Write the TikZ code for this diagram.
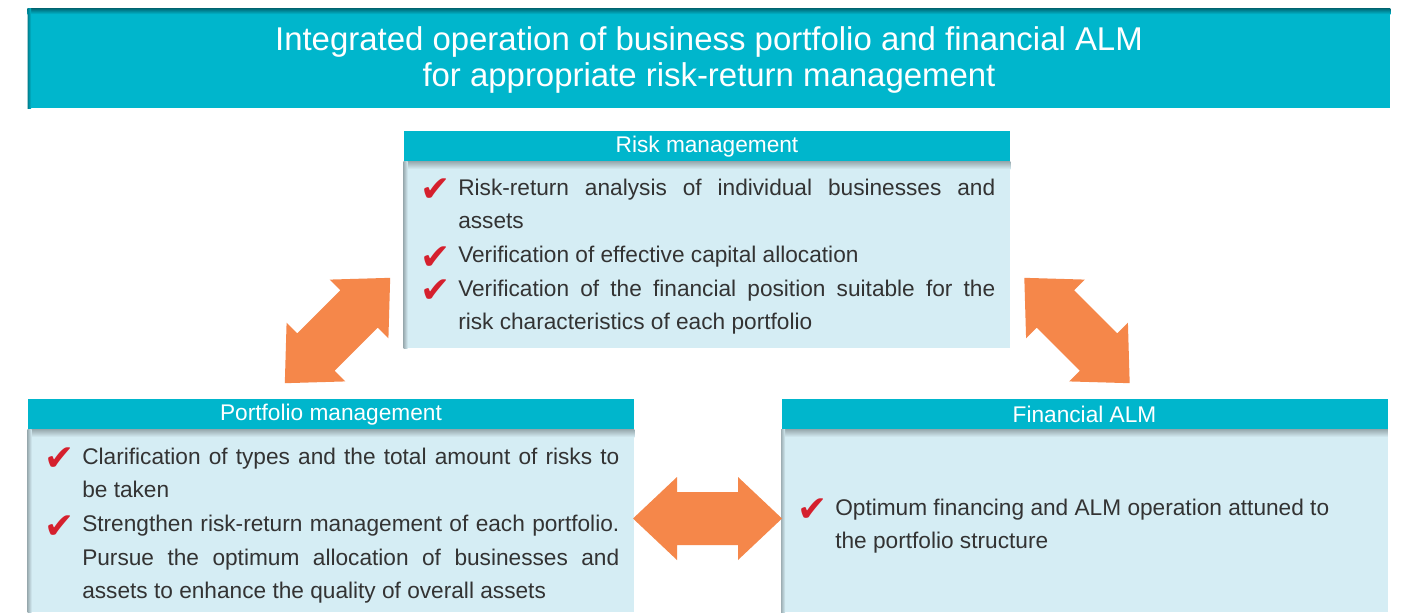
\documentclass[tikz,border=0pt]{standalone}
\usepackage{fontspec}
\setmainfont{Liberation Sans}
\newfontfamily\symfont{DejaVu Sans}
\definecolor{hdr}{HTML}{00B6CC}
\definecolor{bodyc}{HTML}{D5EDF4}
\definecolor{arr}{HTML}{F5874A}
\definecolor{chkc}{HTML}{D5202D}
\definecolor{txt}{HTML}{333333}
\newcommand\nohyph{\hyphenpenalty=10000\relax\exhyphenpenalty=10000\relax}
\newcommand\chkmark{\smash{\raisebox{-5pt}{\symfont\fontsize{27}{27}\selectfont\textcolor{chkc}{✔}}}}
\newcommand\itm[1]{\par\noindent\hangindent=28.5pt\hangafter=1\makebox[28.5pt][l]{\chkmark}#1}
\tikzset{
  hdrbox/.style={fill=hdr, text=white, inner sep=0pt, minimum width=454.5pt, minimum height=23.25pt, font=\fontsize{17}{20}\selectfont},
  bodybox/.style={fill=bodyc, inner sep=0pt, minimum width=454.5pt, anchor=north},
  bodytext/.style={anchor=north west, inner sep=0pt, text width=431.25pt, align=justify, text=txt,
    font={\fontsize{17}{25.3}\selectfont\nohyph}},
  dblarrow/.pic={\fill[arr] (-74.5,0) -- (-30.5,-41.5) -- (-30.5,-26.5) -- (30.5,-26.5) -- (30.5,-41.5) -- (74.5,0)
      -- (30.5,41.5) -- (30.5,26.5) -- (-30.5,26.5) -- (-30.5,41.5) -- cycle;},
  topshadow/.style={top color=black!30!bodyc, bottom color=bodyc},
  leftshadow/.style={left color=black!25!bodyc, right color=bodyc},
}
\begin{document}
\begin{tikzpicture}[x=0.75pt,y=-0.75pt]
\useasboundingbox[fill=white] (0,0) rectangle (1404,612);

% title banner
\node[fill=hdr, inner sep=0pt, minimum width=1021.5pt, minimum height=74.25pt] (title) at (709,58.5) {};
\shade[top color=hdr!60!black, bottom color=hdr] (title.north west) rectangle ([yshift=-4pt]title.north east);
\shade[left color=hdr!70!black, right color=hdr] (title.north west) rectangle ([xshift=2.5pt]title.south west);
\node[text=white, align=center, inner sep=0pt, font=\fontsize{24.7}{27}\selectfont] (titletext) at (709,60)
  {Integrated operation of business portfolio and financial ALM\\for appropriate risk-return management};

% risk management
\node[hdrbox] (riskh) at (707,146.5) {Risk management};
\node[bodybox, minimum height=140.25pt] (riskb) at (707,161) {};
\shade[topshadow] (riskb.north west) rectangle ([yshift=-6pt]riskb.north east);
\shade[leftshadow] (riskb.north west) rectangle ([xshift=3pt]riskb.south west);
\node[bodytext] (riskt) at (420,161) {%
\itm{Risk-return analysis of individual businesses and\linebreak assets}
\itm{Verification of effective capital allocation}
\itm{Verification of the financial position suitable for the\linebreak risk characteristics of each portfolio}\par};

% portfolio management
\node[hdrbox] (porth) at (331,414.5) {Portfolio management};
\node[bodybox, minimum height=137.25pt] (portb) at (331,429) {};
\shade[topshadow] (portb.north west) rectangle ([yshift=-6pt]portb.north east);
\shade[leftshadow] (portb.north west) rectangle ([xshift=3pt]portb.south west);
\node[bodytext] (portt) at (44,430) {%
\itm{Clarification of types and the total amount of risks to\linebreak be taken}
\itm{Strengthen risk-return management of each portfolio.\linebreak Pursue the optimum allocation of businesses and\linebreak assets to enhance the quality of overall assets}\par};

% financial ALM
\node[hdrbox] (almh) at (1084.5,414.5) {Financial ALM};
\node[bodybox, minimum height=137.25pt] (almb) at (1084.5,429) {};
\shade[topshadow] (almb.north west) rectangle ([yshift=-6pt]almb.north east);
\shade[leftshadow] (almb.north west) rectangle ([xshift=3pt]almb.south west);
\node[bodytext] (almt) at (797,481) {%
\itm{Optimum financing and ALM operation attuned to\\the portfolio structure}\par};

% double arrows
\pic[rotate=45] (larr) at (337.5,330.5) {dblarrow};
\pic[rotate=-45] (rarr) at (1077,330.5) {dblarrow};
\pic (harr) at (707.5,518.5) {dblarrow};
\end{tikzpicture}
\end{document}
